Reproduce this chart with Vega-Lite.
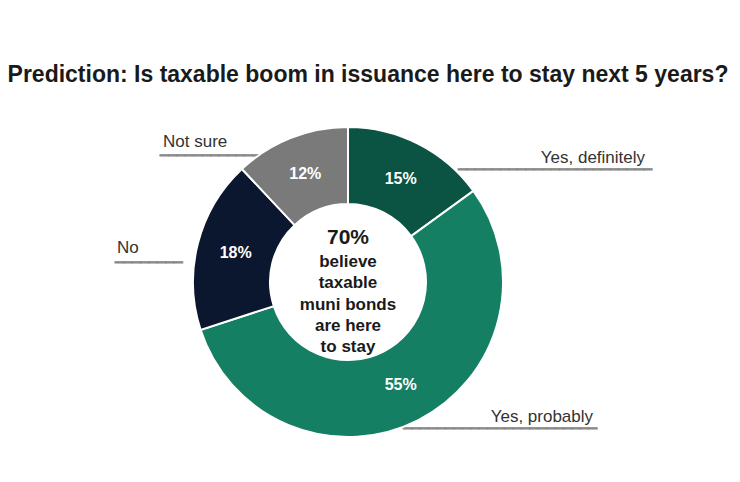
{
  "$schema": "https://vega.github.io/schema/vega-lite/v6.json",
  "width": 696,
  "height": 400,
  "autosize": "none",
  "padding": {"left": 0, "top": 82, "right": 44, "bottom": 0},
  "background": "white",
  "config": {"view": {"stroke": null}, "font": "Liberation Sans"},
  "title": {
    "text": "Prediction: Is taxable boom in issuance here to stay next 5 years?",
    "font": "Liberation Sans",
    "fontSize": 23,
    "fontWeight": "bold",
    "color": "#1a1a1a",
    "anchor": "middle",
    "dx": 20,
    "dy": 23,
    "offset": 0,
    "baseline": "alphabetic"
  },
  "data": {
    "values": [
      {"label": "Yes, definitely", "share": 0.15, "rank": 1},
      {"label": "Yes, probably", "share": 0.55, "rank": 2},
      {"label": "No", "share": 0.18, "rank": 3},
      {"label": "Not sure", "share": 0.12, "rank": 4}
    ]
  },
  "encoding": {
    "theta": {"field": "share", "type": "quantitative", "stack": true},
    "order": {"field": "rank", "type": "quantitative"},
    "detail": {"field": "label"}
  },
  "layer": [
    {
      "mark": {"type": "text", "font": "DejaVu Sans Mono", "fontSize": 14, "align": "right", "baseline": "middle", "radius": 160, "dx": 231.4, "dy": 31.0, "color": "#8a8a8a", "stroke": "#8a8a8a", "strokeWidth": 1},
      "encoding": {"text": {"condition": {"test": "datum.label === 'Yes, definitely'", "value": "───────────────────────"}, "value": ""}}
    },
    {
      "mark": {"type": "text", "font": "DejaVu Sans Mono", "fontSize": 14, "align": "right", "baseline": "middle", "radius": 160, "dx": 176.4, "dy": 4.4, "color": "#8a8a8a", "stroke": "#8a8a8a", "strokeWidth": 1},
      "encoding": {"text": {"condition": {"test": "datum.label === 'Yes, probably'", "value": "───────────────────────"}, "value": ""}}
    },
    {
      "mark": {"type": "text", "font": "DejaVu Sans Mono", "fontSize": 14, "align": "left", "baseline": "middle", "radius": 160, "dx": -78, "dy": 20.8, "color": "#8a8a8a", "stroke": "#8a8a8a", "strokeWidth": 1},
      "encoding": {"text": {"condition": {"test": "datum.label === 'No'", "value": "────────"}, "value": ""}}
    },
    {
      "mark": {"type": "text", "font": "DejaVu Sans Mono", "fontSize": 14, "align": "left", "baseline": "middle", "radius": 160, "dx": -129.1, "dy": 22.5, "color": "#8a8a8a", "stroke": "#8a8a8a", "strokeWidth": 1},
      "encoding": {"text": {"condition": {"test": "datum.label === 'Not sure'", "value": "────────────"}, "value": ""}}
    },
    {
      "mark": {"type": "arc", "outerRadius": 155, "innerRadius": 78, "stroke": "white", "strokeWidth": 2},
      "encoding": {
        "color": {
          "field": "label",
          "type": "nominal",
          "scale": {
            "domain": ["Yes, definitely", "Yes, probably", "No", "Not sure"],
            "range": ["#0b5443", "#157f64", "#0b172e", "#7a7a7a"]
          },
          "legend": null
        }
      }
    },
    {
      "mark": {"type": "text", "radius": 116, "fontSize": 16, "fontWeight": "bold", "color": "white", "baseline": "middle", "align": "center"},
      "encoding": {"text": {"field": "share", "type": "quantitative", "format": ".0%"}}
    },
    {
      "mark": {"type": "text", "fontSize": 17, "color": "#333333", "align": "right", "baseline": "alphabetic", "radius": 160, "dx": 224.4, "dy": 23.6},
      "encoding": {"text": {"condition": {"test": "datum.label === 'Yes, definitely'", "field": "label"}, "value": ""}}
    },
    {
      "mark": {"type": "text", "fontSize": 17, "color": "#333333", "align": "right", "baseline": "alphabetic", "radius": 160, "dx": 172.4, "dy": -2.6},
      "encoding": {"text": {"condition": {"test": "datum.label === 'Yes, probably'", "field": "label"}, "value": ""}}
    },
    {
      "mark": {"type": "text", "fontSize": 17, "color": "#333333", "align": "left", "baseline": "alphabetic", "radius": 160, "dx": -76, "dy": 10.8},
      "encoding": {"text": {"condition": {"test": "datum.label === 'No'", "field": "label"}, "value": ""}}
    },
    {
      "mark": {"type": "text", "fontSize": 17, "color": "#333333", "align": "left", "baseline": "alphabetic", "radius": 160, "dx": -126.1, "dy": 13.8},
      "encoding": {"text": {"condition": {"test": "datum.label === 'Not sure'", "field": "label"}, "value": ""}}
    },
    {
      "mark": {"type": "text", "fontSize": 21, "fontWeight": "bold", "color": "#1a1a1a", "align": "center", "baseline": "middle", "radius": 0, "dy": -44},
      "encoding": {"text": {"condition": {"test": "datum.rank === 1", "value": "70%"}, "value": ""}}
    },
    {
      "mark": {"type": "text", "fontSize": 17, "fontWeight": "bold", "color": "#1a1a1a", "align": "center", "baseline": "middle", "radius": 0, "dy": -20, "lineHeight": 21.3},
      "encoding": {"text": {"condition": {"test": "datum.rank === 1", "value": ["believe", "taxable", "muni bonds", "are here", "to stay"]}, "value": ""}}
    }
  ]
}
